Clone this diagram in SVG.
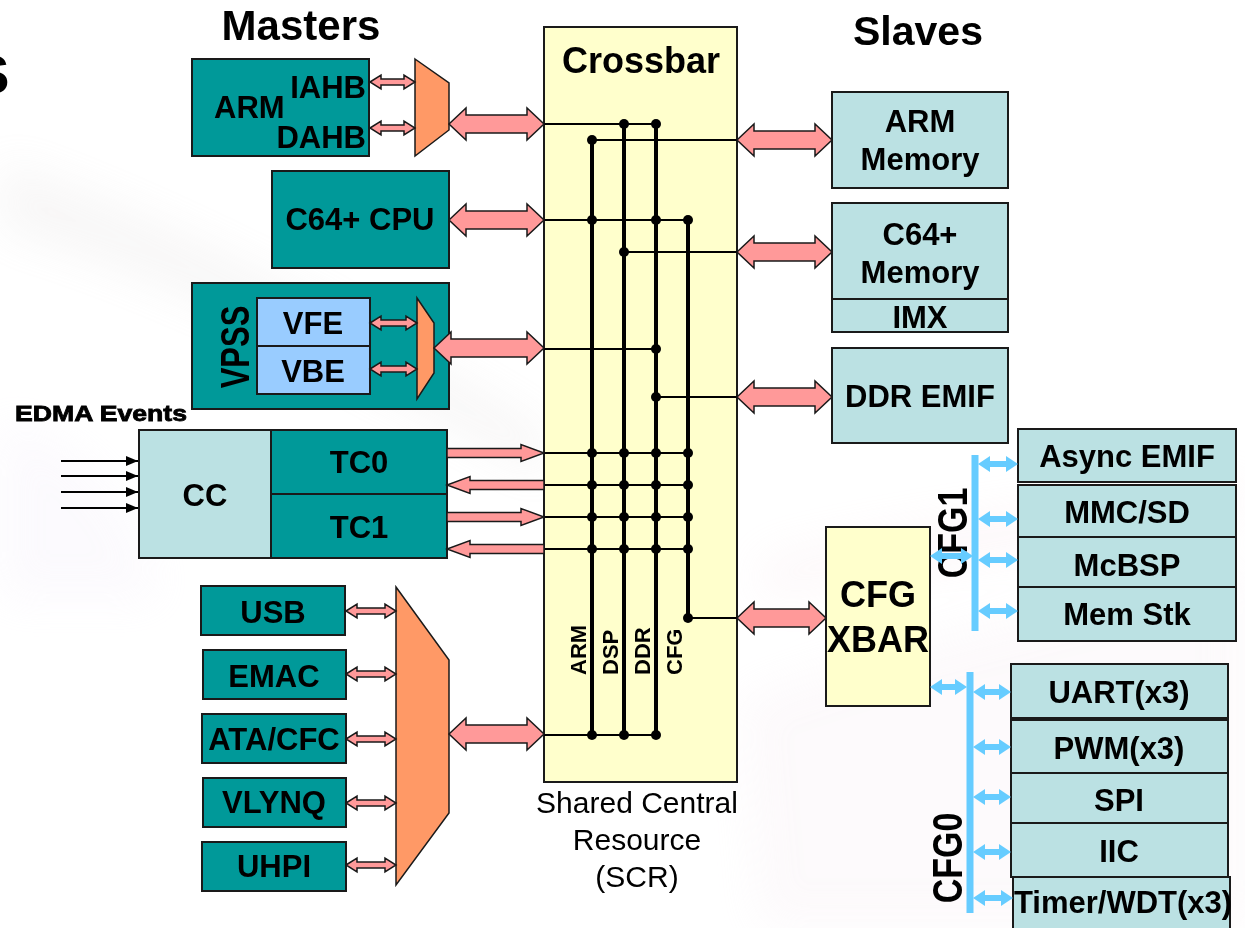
<svg xmlns="http://www.w3.org/2000/svg" width="1245" height="928" viewBox="0 0 1245 928">
<style>
text{font-family:"Liberation Sans",Arial,Helvetica,sans-serif;font-weight:bold;fill:#000}
.t31{font-size:31px}
.mid{text-anchor:middle}
.end{text-anchor:end}
.teal{fill:#009999;stroke:#1a1a1a;stroke-width:2}
.cyan{fill:#BBE1E3;stroke:#1a1a1a;stroke-width:2}
.lblue{fill:#99CCFF;stroke:#1a1a1a;stroke-width:2}
.yel{fill:#FFFFCC;stroke:#1a1a1a;stroke-width:2}
.mux{fill:#FF9966;stroke:#1a1a1a;stroke-width:1.5}
.pk{fill:#FF9999;stroke:#1a1a1a;stroke-width:1.5;stroke-linejoin:miter}
.bl{fill:#66CCFF;stroke:none}
.hl{stroke:#000;stroke-width:2;fill:none}
.bus{stroke:#000;stroke-width:4;fill:none}
.ev{stroke:#000;stroke-width:2;fill:none;marker-end:url(#evh)}
</style>
<defs>
<marker id="evh" markerUnits="userSpaceOnUse" markerWidth="14" markerHeight="12" refX="12" refY="5" orient="auto">
<path d="M0,0 L12,5 L0,10 Z" fill="#000"/>
</marker>
<filter id="soft" x="-30%" y="-30%" width="160%" height="160%"><feGaussianBlur stdDeviation="22"/></filter>
</defs>
<rect width="1245" height="928" fill="#fff"/>
<g id="background" opacity="0.35" filter="url(#soft)">
<path d="M0,160 C150,210 350,310 545,430 L545,480 C350,370 150,270 0,230 Z" fill="#d8d2d2" opacity="0.5"/>
<path d="M0,420 C80,440 140,500 160,600 L0,600 Z" fill="#f0e8f8" opacity="0.6"/>
<path d="M740,700 C900,640 1100,600 1245,560 L1245,928 L760,928 Z" fill="#f3e6ee" opacity="0.6"/>
<path d="M760,560 C900,520 1100,500 1245,480 L1245,520 C1100,540 900,570 760,600 Z" fill="#f5dde6" opacity="0.6"/>
</g>
<text x="-26" y="93" style="font-size:53px">S</text>
<text x="301" y="40" class="mid" style="font-size:42px">Masters</text>
<text x="918" y="45" class="mid" style="font-size:41px">Slaves</text>

<g id="crossbar">
<rect x="544" y="27" width="193" height="755" class="yel"/>
<text x="641" y="73" class="mid" style="font-size:36px">Crossbar</text>
<text transform="translate(578,675) rotate(-90)" y="8" style="font-size:22px">ARM</text>
<text transform="translate(610,675) rotate(-90)" y="8" style="font-size:22px">DSP</text>
<text transform="translate(642,675) rotate(-90)" y="8" style="font-size:22px">DDR</text>
<text transform="translate(674,675) rotate(-90)" y="8" style="font-size:22px">CFG</text>
</g>
<g id="scr-label">
<text x="637" y="813" class="mid" style="font-size:30px;font-weight:normal">Shared Central</text>
<text x="637" y="850" class="mid" style="font-size:30px;font-weight:normal">Resource</text>
<text x="637" y="887" class="mid" style="font-size:30px;font-weight:normal">(SCR)</text>
</g>

<g id="arm-master">
<rect x="192" y="59" width="177" height="97" class="teal"/>
<text x="214" y="118" class="t31">ARM</text>
<text x="366" y="98" class="t31 end">IAHB</text>
<text x="366" y="148" class="t31 end">DAHB</text>
</g>
<g id="arm-mux"><polygon points="415,59 449,83 449,130 415,156" class="mux"/></g>
<g id="c64-cpu">
<rect x="272" y="171" width="177" height="97" class="teal"/>
<text x="360" y="230" class="t31 mid">C64+ CPU</text>
</g>
<g id="vpss">
<rect x="192" y="283" width="257" height="126" class="teal"/>
<text transform="translate(235,347) rotate(-90) scale(1,1.3)" y="11" class="t31 mid">VPSS</text>
</g>
<g id="vfe"><rect x="257" y="298" width="113" height="48" class="lblue"/><text x="313" y="334" class="t31 mid">VFE</text></g>
<g id="vbe"><rect x="257" y="346" width="113" height="48" class="lblue"/><text x="313" y="382" class="t31 mid">VBE</text></g>
<g id="vpss-mux"><polygon points="417,298 434,323 434,373 417,399" class="mux"/></g>

<text x="15" y="421" textLength="172" lengthAdjust="spacingAndGlyphs" style="font-size:22px;stroke:#000;stroke-width:0.8">EDMA Events</text>
<g id="cc"><rect x="139" y="430" width="132" height="128" class="cyan"/><text x="205" y="506" class="t31 mid">CC</text></g>
<g id="tc0"><rect x="271" y="430" width="176" height="64" class="teal"/><text x="359" y="473" class="t31 mid">TC0</text></g>
<g id="tc1"><rect x="271" y="494" width="176" height="64" class="teal"/><text x="359" y="538" class="t31 mid">TC1</text></g>

<g id="usb"><rect x="201" y="586" width="144" height="49" class="teal"/><text x="273" y="623" class="t31 mid">USB</text></g>
<g id="emac"><rect x="203" y="650" width="143" height="49" class="teal"/><text x="274" y="687" class="t31 mid">EMAC</text></g>
<g id="atacfc"><rect x="202" y="714" width="144" height="49" class="teal"/><text x="274" y="750" class="t31 mid">ATA/CFC</text></g>
<g id="vlynq"><rect x="203" y="778" width="143" height="49" class="teal"/><text x="274" y="813" class="t31 mid">VLYNQ</text></g>
<g id="uhpi"><rect x="202" y="842" width="144" height="49" class="teal"/><text x="274" y="877" class="t31 mid">UHPI</text></g>
<g id="periph-mux"><polygon points="396,587 449,660 449,813 396,885" class="mux"/></g>

<g id="arm-memory"><rect x="832" y="92" width="176" height="96" class="cyan"/><text x="920" y="132" class="t31 mid">ARM</text><text x="920" y="170" class="t31 mid">Memory</text></g>
<g id="c64-memory"><rect x="832" y="203" width="176" height="96" class="cyan"/><text x="920" y="245" class="t31 mid">C64+</text><text x="920" y="283" class="t31 mid">Memory</text></g>
<g id="imx"><rect x="832" y="299" width="176" height="33" class="cyan"/><text x="920" y="328" class="t31 mid">IMX</text></g>
<g id="ddr-emif"><rect x="832" y="348" width="176" height="95" class="cyan"/><text x="920" y="407" class="t31 mid">DDR EMIF</text></g>

<g id="cfg-xbar"><rect x="826" y="527" width="104" height="179" class="yel"/><text x="878" y="607" class="mid" style="font-size:36px">CFG</text><text x="878" y="652" class="mid" style="font-size:36px">XBAR</text></g>

<g id="async-emif"><rect x="1018" y="429" width="218" height="53" class="cyan"/><text x="1127" y="467" class="t31 mid">Async EMIF</text></g>
<g id="mmcsd"><rect x="1018" y="485" width="218" height="52" class="cyan"/><text x="1127" y="523" class="t31 mid">MMC/SD</text></g>
<g id="mcbsp"><rect x="1018" y="537" width="218" height="50" class="cyan"/><text x="1127" y="576" class="t31 mid">McBSP</text></g>
<g id="memstk"><rect x="1018" y="587" width="218" height="54" class="cyan"/><text x="1127" y="625" class="t31 mid">Mem Stk</text></g>

<g id="uart"><rect x="1011" y="664" width="217" height="54" class="cyan"/><text x="1119" y="703" class="t31 mid">UART(x3)</text></g>
<g id="pwm"><rect x="1011" y="720" width="217" height="53" class="cyan"/><text x="1119" y="759" class="t31 mid">PWM(x3)</text></g>
<g id="spi"><rect x="1011" y="773" width="217" height="50" class="cyan"/><text x="1119" y="811" class="t31 mid">SPI</text></g>
<g id="iic"><rect x="1011" y="823" width="217" height="54" class="cyan"/><text x="1119" y="862" class="t31 mid">IIC</text></g>
<g id="timer"><rect x="1013" y="877" width="217" height="60" class="cyan"/><text x="1123" y="913" class="t31 mid">Timer/WDT(x3)</text></g>

<g id="cfg1-label"><text transform="translate(952,533) rotate(-90) scale(1,1.25)" y="12" class="mid" style="font-size:34px">CFG1</text></g>
<g id="cfg0-label"><text transform="translate(947,858) rotate(-90) scale(1,1.25)" y="12" class="mid" style="font-size:34px">CFG0</text></g>

<g id="connectors">
<path class="hl" d="M544,124H656 M592,140H737 M544,220H688 M624,252H737 M544,349H656 M656,397H737 M544,453H688 M544,485H688 M544,517H688 M544,549H688 M688,618H737 M544,735H656"/>
<path class="bus" d="M592,140V735 M624,124V735 M656,124V735 M688,220V618"/>
<g fill="#000">
<circle cx="624" cy="124" r="5"/><circle cx="656" cy="124" r="5"/>
<circle cx="592" cy="140" r="5"/>
<circle cx="592" cy="220" r="5"/><circle cx="656" cy="220" r="5"/><circle cx="688" cy="220" r="5"/>
<circle cx="624" cy="252" r="5"/>
<circle cx="656" cy="349" r="5"/><circle cx="656" cy="397" r="5"/>
<circle cx="592" cy="453" r="5"/><circle cx="624" cy="453" r="5"/><circle cx="656" cy="453" r="5"/><circle cx="688" cy="453" r="5"/>
<circle cx="592" cy="485" r="5"/><circle cx="624" cy="485" r="5"/><circle cx="656" cy="485" r="5"/><circle cx="688" cy="485" r="5"/>
<circle cx="592" cy="517" r="5"/><circle cx="624" cy="517" r="5"/><circle cx="656" cy="517" r="5"/><circle cx="688" cy="517" r="5"/>
<circle cx="592" cy="549" r="5"/><circle cx="624" cy="549" r="5"/><circle cx="656" cy="549" r="5"/><circle cx="688" cy="549" r="5"/>
<circle cx="688" cy="618" r="5"/>
<circle cx="592" cy="735" r="5"/><circle cx="624" cy="735" r="5"/><circle cx="656" cy="735" r="5"/>
</g>
<polygon class="pk" points="449,124 466,108 466,115 527,115 527,108 544,124 527,140 527,133 466,133 466,140"/>
<polygon class="pk" points="449,220 466,204 466,211 527,211 527,204 544,220 527,236 527,229 466,229 466,236"/>
<polygon class="pk" points="434,348 451,332 451,339 527,339 527,332 544,348 527,364 527,357 451,357 451,364"/>
<polygon class="pk" points="449,734 466,718 466,725 527,725 527,718 544,734 527,750 527,743 466,743 466,750"/>
<polygon class="pk" points="737,140 754,124 754,131 815,131 815,124 832,140 815,156 815,149 754,149 754,156"/>
<polygon class="pk" points="737,252 754,236 754,243 815,243 815,236 832,252 815,268 815,261 754,261 754,268"/>
<polygon class="pk" points="737,397 754,381 754,388 815,388 815,381 832,397 815,413 815,406 754,406 754,413"/>
<polygon class="pk" points="737,618 754,602 754,609 809,609 809,602 826,618 809,634 809,627 754,627 754,634"/>
<polygon class="pk" points="370,82 381,75 381,79 404,79 404,75 415,82 404,89 404,85 381,85 381,89"/>
<polygon class="pk" points="370,128 381,121 381,125 404,125 404,121 415,128 404,135 404,131 381,131 381,135"/>
<polygon class="pk" points="370,323 381,316 381,320 406,320 406,316 417,323 406,330 406,326 381,326 381,330"/>
<polygon class="pk" points="370,369 381,362 381,366 406,366 406,362 417,369 406,376 406,372 381,372 381,376"/>
<polygon class="pk" points="346,611 357,604 357,608 385,608 385,604 396,611 385,618 385,614 357,614 357,618"/>
<polygon class="pk" points="346,674 357,667 357,671 385,671 385,667 396,674 385,681 385,677 357,677 357,681"/>
<polygon class="pk" points="346,739 357,732 357,736 385,736 385,732 396,739 385,746 385,742 357,742 357,746"/>
<polygon class="pk" points="346,803 357,796 357,800 385,800 385,796 396,803 385,810 385,806 357,806 357,810"/>
<polygon class="pk" points="346,865 357,858 357,862 385,862 385,858 396,865 385,872 385,868 357,868 357,872"/>
<polygon class="pk" points="447,448.5 521,448.5 521,444.5 544,453 521,461.5 521,457.5 447,457.5"/>
<polygon class="pk" points="544,480.5 470,480.5 470,476.5 447,485 470,493.5 470,489.5 544,489.5"/>
<polygon class="pk" points="447,512.5 521,512.5 521,508.5 544,517 521,525.5 521,521.5 447,521.5"/>
<polygon class="pk" points="544,544.5 470,544.5 470,540.5 447,549 470,557.5 470,553.5 544,553.5"/>
<path class="ev" d="M61,461H138"/>
<path class="ev" d="M61,476H138"/>
<path class="ev" d="M61,492H138"/>
<path class="ev" d="M61,508H138"/>
<rect x="971.5" y="455" width="7" height="176" class="bl"/>
<polygon class="bl" points="930,556 942,548 942,553 961,553 961,548 973,556 961,564 961,559 942,559 942,564"/>
<polygon class="bl" points="978,464 990,456 990,461 1006,461 1006,456 1018,464 1006,472 1006,467 990,467 990,472"/>
<polygon class="bl" points="978,519 990,511 990,516 1006,516 1006,511 1018,519 1006,527 1006,522 990,522 990,527"/>
<polygon class="bl" points="978,560 990,552 990,557 1006,557 1006,552 1018,560 1006,568 1006,563 990,563 990,568"/>
<polygon class="bl" points="978,611 990,603 990,608 1006,608 1006,603 1018,611 1006,619 1006,614 990,614 990,619"/>
<rect x="966.5" y="672" width="7" height="241" class="bl"/>
<polygon class="bl" points="930,687 942,679 942,684 955,684 955,679 967,687 955,695 955,690 942,690 942,695"/>
<polygon class="bl" points="973,692 985,684 985,689 999,689 999,684 1011,692 999,700 999,695 985,695 985,700"/>
<polygon class="bl" points="973,747 985,739 985,744 999,744 999,739 1011,747 999,755 999,750 985,750 985,755"/>
<polygon class="bl" points="973,797 985,789 985,794 999,794 999,789 1011,797 999,805 999,800 985,800 985,805"/>
<polygon class="bl" points="973,852 985,844 985,849 999,849 999,844 1011,852 999,860 999,855 985,855 985,860"/>
<polygon class="bl" points="973,898 985,890 985,895 1001,895 1001,890 1013,898 1001,906 1001,901 985,901 985,906"/>
</g>
</svg>
